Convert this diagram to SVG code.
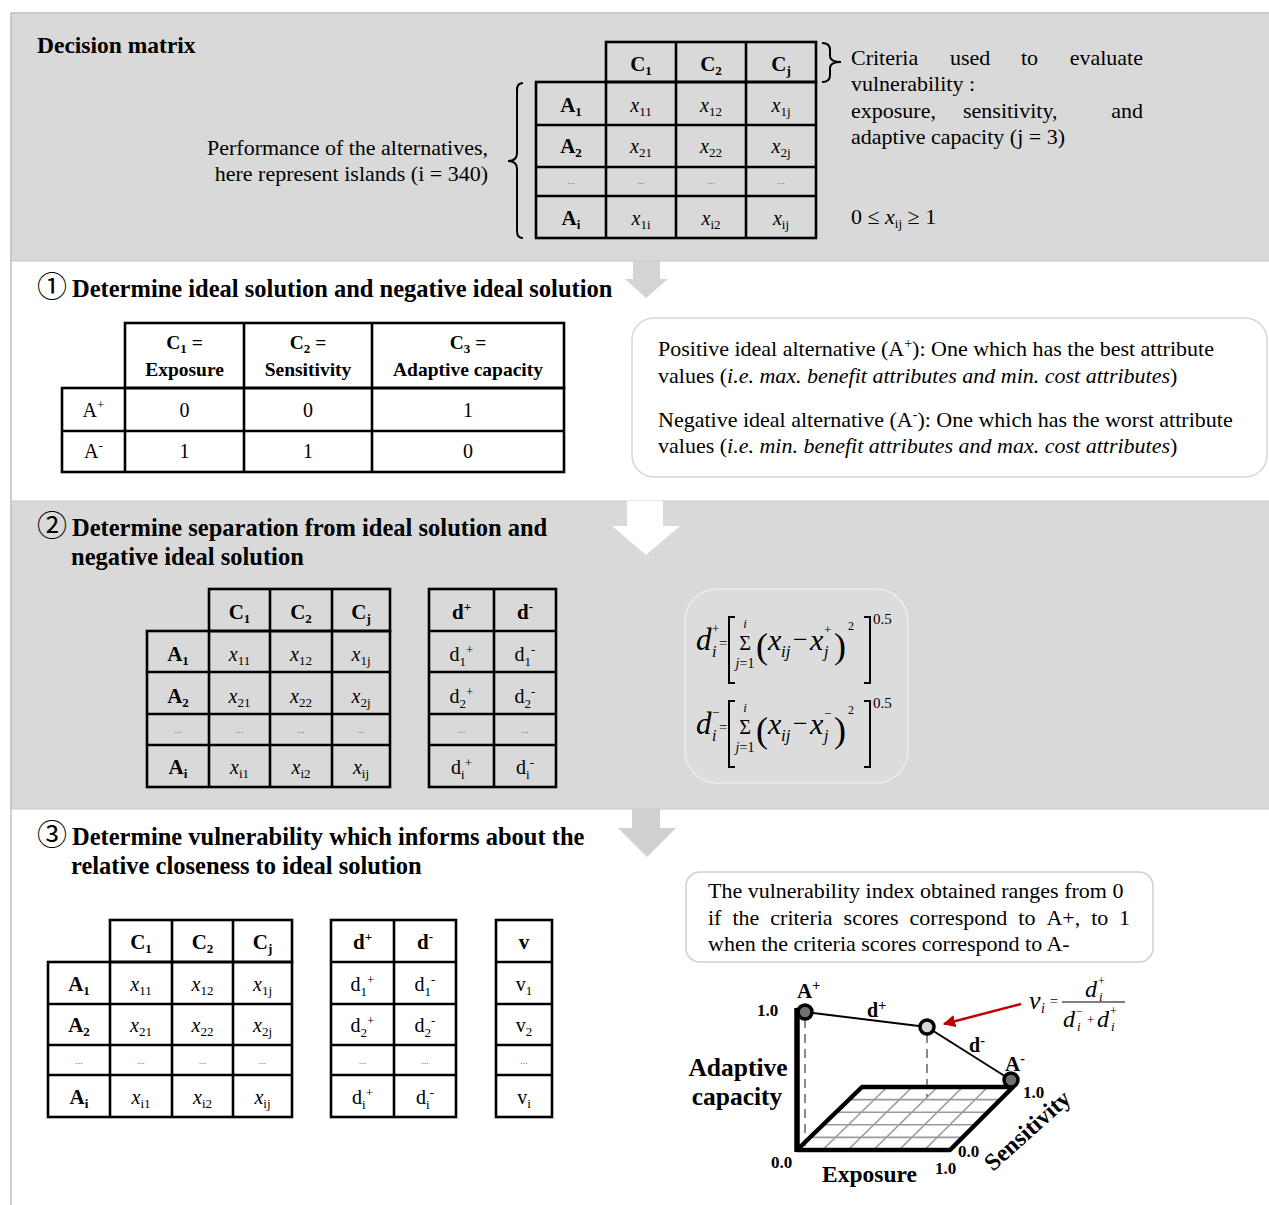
<svg xmlns="http://www.w3.org/2000/svg" width="1269" height="1205" viewBox="0 0 1269 1205">
<defs>
<style>
text { font-family: "Liberation Serif", "Times New Roman", serif; fill: #000; }
.b { font-weight: bold; }
.i { font-style: italic; }
.n { font-style: normal; }
.m { text-anchor: middle; }
.e { text-anchor: end; }
.grid { fill: none; stroke: #000; stroke-width: 2.6; }
.hd { font-size: 21px; font-weight: bold; }
.cv { font-size: 20px; }
.dots { font-size: 10px; fill: #777; }
.body { font-size: 22px; }
.title { font-size: 24.5px; font-weight: bold; }
.circ { font-family: "Noto Sans CJK JP", "DejaVu Sans", sans-serif; font-weight: normal; font-size: 30px; }
.sub { font-size: 13px; }
.ax { font-weight: bold; font-size: 17px; }
.br { fill: none; stroke: #000; stroke-width: 2; }
.gl { stroke: #9a9a9a; stroke-width: 1.6; }
.dash { stroke: #8a8a8a; stroke-width: 2; stroke-dasharray: 9 6; }
.pt { stroke: #000; stroke-width: 3.5; }
</style>
<marker id="redhead" viewBox="0 0 10 10" refX="9" refY="5" markerWidth="5" markerHeight="5" orient="auto" markerUnits="strokeWidth"><path d="M0,0 L10,5 L0,10 z" fill="#c00000"/></marker>
</defs>

<!-- backgrounds -->
<rect x="0" y="0" width="1269" height="1205" fill="#fff"/>
<rect x="11" y="13" width="1258" height="248" fill="#d9d9d9"/>
<rect x="11" y="501" width="1258" height="308" fill="#d9d9d9"/>
<path d="M11,1205 V13 H1269" stroke="#bdbdbd" stroke-width="1.5" fill="none"/>
<path d="M11,261 H1269 M11,501 H1269 M11,809 H1269" stroke="#c8c8c8" stroke-width="1"/>

<!-- connectors -->
<g id="connectors">
<polygon points="633,261 660,261 660,279 668,279 646,298 625,279 633,279" fill="#d4d4d4"/>
<polygon points="627,501 663,501 663,526 680,526 646,555 612,526 627,526" fill="#fff"/>
<polygon points="632,809 660,809 660,828 676,828 647,857 618,828 632,828" fill="#d0d0d0"/>
<line x1="1021" y1="1004" x2="944" y2="1024" stroke="#c00000" stroke-width="2.5" marker-end="url(#redhead)"/>
</g>

<!-- Section 0: decision matrix -->
<g id="decision-matrix-title">
<text class="b" font-size="23.5" x="37" y="53">Decision matrix</text>
</g>
<g id="alternatives-label">
<text class="body e" x="488" y="155">Performance of the alternatives,</text>
<text class="body e" x="488" y="181">here represent islands (i = 340)</text>
<path class="br" d="M523,83 Q517,83 517,90 V153 Q517,161 508,161 Q517,161 517,169 V231 Q517,238 523,238"/>
</g>
<g id="criteria-label">
<path class="br" d="M822,43 Q830,43 830,50 V56 Q830,62 841,62 Q830,62 830,68 V75 Q830,82 822,82"/>
<text class="body" x="851" y="65">Criteria</text>
<text class="body" x="950" y="65">used</text>
<text class="body" x="1021" y="65">to</text>
<text class="body e" x="1143" y="65">evaluate</text>
<text class="body" x="851" y="91">vulnerability :</text>
<text class="body" x="851" y="118">exposure,</text>
<text class="body" x="963" y="118">sensitivity,</text>
<text class="body e" x="1143" y="118">and</text>
<text class="body" x="851" y="144">adaptive capacity (j = 3)</text>
<text class="body" x="851" y="224">0 ≤ <tspan class="i">x</tspan><tspan class="sub" dy="4">ij</tspan><tspan dy="-4"> ≥ 1</tspan></text>
</g>
<g id="decision-matrix">
<rect class="grid" x="606" y="42" width="210" height="40"/>
<rect class="grid" x="536" y="82" width="280" height="156"/>
<path class="grid" d="M606,82 V238 M676,42 V238 M746,42 V238 M536,125 H816 M536,167 H816 M536,196 H816"/>
<text class="hd m" x="641" y="71">C<tspan class="sub" dy="4">1</tspan></text>
<text class="hd m" x="711" y="71">C<tspan class="sub" dy="4">2</tspan></text>
<text class="hd m" x="781" y="71">C<tspan class="sub" dy="4">j</tspan></text>
<text class="hd m" x="571" y="112">A<tspan class="sub" dy="4">1</tspan></text>
<text class="hd m" x="571" y="153">A<tspan class="sub" dy="4">2</tspan></text>
<text class="dots m" x="571" y="184">...</text>
<text class="hd m" x="571" y="225">A<tspan class="sub" dy="4">i</tspan></text>
<text class="cv m" x="641" y="112"><tspan class="i">x</tspan><tspan class="sub" dy="4">11</tspan></text>
<text class="cv m" x="711" y="112"><tspan class="i">x</tspan><tspan class="sub" dy="4">12</tspan></text>
<text class="cv m" x="781" y="112"><tspan class="i">x</tspan><tspan class="sub" dy="4">1j</tspan></text>
<text class="cv m" x="641" y="153"><tspan class="i">x</tspan><tspan class="sub" dy="4">21</tspan></text>
<text class="cv m" x="711" y="153"><tspan class="i">x</tspan><tspan class="sub" dy="4">22</tspan></text>
<text class="cv m" x="781" y="153"><tspan class="i">x</tspan><tspan class="sub" dy="4">2j</tspan></text>
<text class="dots m" x="641" y="184">...</text>
<text class="dots m" x="711" y="184">...</text>
<text class="dots m" x="781" y="184">...</text>
<text class="cv m" x="641" y="225"><tspan class="i">x</tspan><tspan class="sub" dy="4">1i</tspan></text>
<text class="cv m" x="711" y="225"><tspan class="i">x</tspan><tspan class="sub" dy="4">i2</tspan></text>
<text class="cv m" x="781" y="225"><tspan class="i">x</tspan><tspan class="sub" dy="4">ij</tspan></text>
</g>

<!-- Section 1 -->
<g id="step1-title">
<text class="title" x="37" y="297"><tspan class="circ">①</tspan><tspan x="72">Determine ideal solution and negative ideal solution</tspan></text>
</g>
<g id="ideal-table">
<rect class="grid" x="125" y="323" width="439" height="65"/>
<rect class="grid" x="62" y="388" width="502" height="84"/>
<path class="grid" d="M125,388 V472 M244,323 V472 M372,323 V472 M62,431 H564"/>
<text class="m b" font-size="19.5" x="184.5" y="349">C<tspan font-size="13" dy="4">1</tspan><tspan dy="-4"> =</tspan></text>
<text class="m b" font-size="19.5" x="184.5" y="376">Exposure</text>
<text class="m b" font-size="19.5" x="308" y="349">C<tspan font-size="13" dy="4">2</tspan><tspan dy="-4"> =</tspan></text>
<text class="m b" font-size="19.5" x="308" y="376">Sensitivity</text>
<text class="m b" font-size="19.5" x="468" y="349">C<tspan font-size="13" dy="4">3</tspan><tspan dy="-4"> =</tspan></text>
<text class="m b" font-size="19.5" x="468" y="376">Adaptive capacity</text>
<text class="m" font-size="20" x="93.5" y="417">A<tspan font-size="13" dy="-8">+</tspan></text>
<text class="m" font-size="20" x="184.5" y="417">0</text>
<text class="m" font-size="20" x="308" y="417">0</text>
<text class="m" font-size="20" x="468" y="417">1</text>
<text class="m" font-size="20" x="93.5" y="458">A<tspan font-size="13" dy="-8">-</tspan></text>
<text class="m" font-size="20" x="184.5" y="458">1</text>
<text class="m" font-size="20" x="308" y="458">1</text>
<text class="m" font-size="20" x="468" y="458">0</text>
</g>
<g id="ideal-definition">
<rect x="632" y="318" width="635" height="159" rx="22" fill="#fff" stroke="#d6d6d6" stroke-width="1.5"/>
<text class="body" x="658" y="356">Positive ideal alternative (A<tspan font-size="14" dy="-8">+</tspan><tspan dy="8">): One which has the best attribute</tspan></text>
<text class="body" x="658" y="383">values (<tspan class="i">i.e. max. benefit attributes and min. cost attributes</tspan>)</text>
<text class="body" x="658" y="427">Negative ideal alternative (A<tspan font-size="14" dy="-8">-</tspan><tspan dy="8">): One which has the worst attribute</tspan></text>
<text class="body" x="658" y="453">values (<tspan class="i">i.e. min. benefit attributes and max. cost attributes</tspan>)</text>
</g>

<!-- Section 2 -->
<g id="step2-title">
<text class="title" x="37" y="536"><tspan class="circ">②</tspan><tspan x="72">Determine separation from ideal solution and</tspan></text>
<text class="title" x="71" y="565">negative ideal solution</text>
</g>
<g id="separation-matrix">
<rect class="grid" x="209" y="589" width="181" height="42"/>
<rect class="grid" x="147" y="631" width="243" height="156"/>
<path class="grid" d="M209,631 V787 M270,589 V787 M332,589 V787 M147,672 H390 M147,714 H390 M147,745 H390"/>
<text class="hd m" x="239.5" y="619">C<tspan class="sub" dy="4">1</tspan></text>
<text class="hd m" x="301" y="619">C<tspan class="sub" dy="4">2</tspan></text>
<text class="hd m" x="361" y="619">C<tspan class="sub" dy="4">j</tspan></text>
<text class="hd m" x="178" y="661">A<tspan class="sub" dy="4">1</tspan></text>
<text class="hd m" x="178" y="703">A<tspan class="sub" dy="4">2</tspan></text>
<text class="dots m" x="178" y="733">...</text>
<text class="hd m" x="178" y="774">A<tspan class="sub" dy="4">i</tspan></text>
<text class="cv m" x="239.5" y="661"><tspan class="i">x</tspan><tspan class="sub" dy="4">11</tspan></text>
<text class="cv m" x="301" y="661"><tspan class="i">x</tspan><tspan class="sub" dy="4">12</tspan></text>
<text class="cv m" x="361" y="661"><tspan class="i">x</tspan><tspan class="sub" dy="4">1j</tspan></text>
<text class="cv m" x="239.5" y="703"><tspan class="i">x</tspan><tspan class="sub" dy="4">21</tspan></text>
<text class="cv m" x="301" y="703"><tspan class="i">x</tspan><tspan class="sub" dy="4">22</tspan></text>
<text class="cv m" x="361" y="703"><tspan class="i">x</tspan><tspan class="sub" dy="4">2j</tspan></text>
<text class="dots m" x="239.5" y="733">...</text>
<text class="dots m" x="301" y="733">...</text>
<text class="dots m" x="361" y="733">...</text>
<text class="cv m" x="239.5" y="774"><tspan class="i">x</tspan><tspan class="sub" dy="4">i1</tspan></text>
<text class="cv m" x="301" y="774"><tspan class="i">x</tspan><tspan class="sub" dy="4">i2</tspan></text>
<text class="cv m" x="361" y="774"><tspan class="i">x</tspan><tspan class="sub" dy="4">ij</tspan></text>
</g>
<g id="separation-d">
<rect class="grid" x="429" y="589" width="127" height="198"/>
<path class="grid" d="M494,589 V787 M429,631 H556 M429,672 H556 M429,714 H556 M429,745 H556"/>
<text class="hd m" x="461.5" y="619">d<tspan class="sub" dy="-8">+</tspan></text>
<text class="hd m" x="525" y="619">d<tspan class="sub" dy="-8">-</tspan></text>
<text class="cv m" x="461.5" y="661">d<tspan class="sub" dy="5">1</tspan><tspan class="sub" dy="-12">+</tspan></text>
<text class="cv m" x="525" y="661">d<tspan class="sub" dy="5">1</tspan><tspan class="sub" dy="-12">-</tspan></text>
<text class="cv m" x="461.5" y="703">d<tspan class="sub" dy="5">2</tspan><tspan class="sub" dy="-12">+</tspan></text>
<text class="cv m" x="525" y="703">d<tspan class="sub" dy="5">2</tspan><tspan class="sub" dy="-12">-</tspan></text>
<text class="dots m" x="461.5" y="733">...</text>
<text class="dots m" x="525" y="733">...</text>
<text class="cv m" x="461.5" y="774">d<tspan class="sub" dy="5">i</tspan><tspan class="sub" dy="-12">+</tspan></text>
<text class="cv m" x="525" y="774">d<tspan class="sub" dy="5">i</tspan><tspan class="sub" dy="-12">-</tspan></text>
</g>
<g id="separation-formula">
<rect x="685" y="589" width="223" height="194" rx="32" fill="#dcdcdc" stroke="#ececec" stroke-width="1.5"/>
<text class="i" font-size="31" x="696" y="650">d</text>
<text font-size="13" x="712" y="633">+</text>
<text class="i" font-size="16" x="712" y="657">i</text>
<text font-size="15" x="719" y="648">=</text>
<path class="br" d="M735,617 H729 V683 H735"/>
<text class="i m" font-size="13" x="745" y="628">i</text>
<text class="m" font-size="20" x="745" y="650">Σ</text>
<text class="i m" font-size="14" x="745" y="668">j<tspan class="n">=1</tspan></text>
<text font-size="36" x="756" y="658">(</text>
<text class="i" font-size="30" x="768" y="650">x</text>
<text class="i" font-size="17" x="781" y="657">ij</text>
<text font-size="26" x="793" y="648">−</text>
<text class="i" font-size="30" x="810" y="650">x</text>
<text font-size="13" x="824" y="634">+</text>
<text class="i" font-size="16" x="824" y="657">j</text>
<text font-size="36" x="834" y="658">)</text>
<text font-size="12" x="848" y="630">2</text>
<path class="br" d="M864,617 H870 V683 H864"/>
<text font-size="15" x="873" y="624">0.5</text>

<text class="i" font-size="31" x="696" y="734">d</text>
<text font-size="13" x="712" y="717">−</text>
<text class="i" font-size="16" x="712" y="741">i</text>
<text font-size="15" x="719" y="732">=</text>
<path class="br" d="M735,701 H729 V767 H735"/>
<text class="i m" font-size="13" x="745" y="712">i</text>
<text class="m" font-size="20" x="745" y="734">Σ</text>
<text class="i m" font-size="14" x="745" y="752">j<tspan class="n">=1</tspan></text>
<text font-size="36" x="756" y="742">(</text>
<text class="i" font-size="30" x="768" y="734">x</text>
<text class="i" font-size="17" x="781" y="741">ij</text>
<text font-size="26" x="793" y="732">−</text>
<text class="i" font-size="30" x="810" y="734">x</text>
<text font-size="13" x="824" y="718">−</text>
<text class="i" font-size="16" x="824" y="741">j</text>
<text font-size="36" x="834" y="742">)</text>
<text font-size="12" x="848" y="714">2</text>
<path class="br" d="M864,701 H870 V767 H864"/>
<text font-size="15" x="873" y="708">0.5</text>
</g>

<!-- Section 3 -->
<g id="step3-title">
<text class="title" x="37" y="845"><tspan class="circ">③</tspan><tspan x="72">Determine vulnerability which informs about the</tspan></text>
<text class="title" x="71" y="874">relative closeness to ideal solution</text>
</g>
<g id="vuln-matrix">
<rect class="grid" x="110" y="920" width="182" height="42"/>
<rect class="grid" x="48" y="962" width="244" height="155"/>
<path class="grid" d="M110,962 V1117 M172,920 V1117 M233,920 V1117 M48,1004 H292 M48,1045 H292 M48,1075 H292"/>
<text class="hd m" x="141" y="949">C<tspan class="sub" dy="4">1</tspan></text>
<text class="hd m" x="202.5" y="949">C<tspan class="sub" dy="4">2</tspan></text>
<text class="hd m" x="262.5" y="949">C<tspan class="sub" dy="4">j</tspan></text>
<text class="hd m" x="79" y="991">A<tspan class="sub" dy="4">1</tspan></text>
<text class="hd m" x="79" y="1032">A<tspan class="sub" dy="4">2</tspan></text>
<text class="dots m" x="79" y="1064">...</text>
<text class="hd m" x="79" y="1104">A<tspan class="sub" dy="4">i</tspan></text>
<text class="cv m" x="141" y="991"><tspan class="i">x</tspan><tspan class="sub" dy="4">11</tspan></text>
<text class="cv m" x="202.5" y="991"><tspan class="i">x</tspan><tspan class="sub" dy="4">12</tspan></text>
<text class="cv m" x="262.5" y="991"><tspan class="i">x</tspan><tspan class="sub" dy="4">1j</tspan></text>
<text class="cv m" x="141" y="1032"><tspan class="i">x</tspan><tspan class="sub" dy="4">21</tspan></text>
<text class="cv m" x="202.5" y="1032"><tspan class="i">x</tspan><tspan class="sub" dy="4">22</tspan></text>
<text class="cv m" x="262.5" y="1032"><tspan class="i">x</tspan><tspan class="sub" dy="4">2j</tspan></text>
<text class="dots m" x="141" y="1064">...</text>
<text class="dots m" x="202.5" y="1064">...</text>
<text class="dots m" x="262.5" y="1064">...</text>
<text class="cv m" x="141" y="1104"><tspan class="i">x</tspan><tspan class="sub" dy="4">i1</tspan></text>
<text class="cv m" x="202.5" y="1104"><tspan class="i">x</tspan><tspan class="sub" dy="4">i2</tspan></text>
<text class="cv m" x="262.5" y="1104"><tspan class="i">x</tspan><tspan class="sub" dy="4">ij</tspan></text>
</g>
<g id="vuln-d">
<rect class="grid" x="331" y="920" width="125" height="197"/>
<path class="grid" d="M394,920 V1117 M331,962 H456 M331,1004 H456 M331,1045 H456 M331,1075 H456"/>
<text class="hd m" x="362.5" y="949">d<tspan class="sub" dy="-8">+</tspan></text>
<text class="hd m" x="425" y="949">d<tspan class="sub" dy="-8">-</tspan></text>
<text class="cv m" x="362.5" y="991">d<tspan class="sub" dy="5">1</tspan><tspan class="sub" dy="-12">+</tspan></text>
<text class="cv m" x="425" y="991">d<tspan class="sub" dy="5">1</tspan><tspan class="sub" dy="-12">-</tspan></text>
<text class="cv m" x="362.5" y="1032">d<tspan class="sub" dy="5">2</tspan><tspan class="sub" dy="-12">+</tspan></text>
<text class="cv m" x="425" y="1032">d<tspan class="sub" dy="5">2</tspan><tspan class="sub" dy="-12">-</tspan></text>
<text class="dots m" x="362.5" y="1064">...</text>
<text class="dots m" x="425" y="1064">...</text>
<text class="cv m" x="362.5" y="1104">d<tspan class="sub" dy="5">i</tspan><tspan class="sub" dy="-12">+</tspan></text>
<text class="cv m" x="425" y="1104">d<tspan class="sub" dy="5">i</tspan><tspan class="sub" dy="-12">-</tspan></text>
</g>
<g id="vuln-v">
<rect class="grid" x="496" y="920" width="56" height="197"/>
<path class="grid" d="M496,962 H552 M496,1004 H552 M496,1045 H552 M496,1075 H552"/>
<text class="hd m" x="524" y="949">v</text>
<text class="cv m" x="524" y="991">v<tspan class="sub" dy="4">1</tspan></text>
<text class="cv m" x="524" y="1032">v<tspan class="sub" dy="4">2</tspan></text>
<text class="dots m" x="524" y="1064">...</text>
<text class="cv m" x="524" y="1104">v<tspan class="sub" dy="4">i</tspan></text>
</g>
<g id="vuln-note">
<rect x="686" y="872" width="467" height="90" rx="14" fill="#fff" stroke="#d0d0d0" stroke-width="1.5"/>
<text class="body" x="708" y="898">The vulnerability index obtained ranges from 0</text>
<text class="body" x="708" y="925">if</text>
<text class="body" x="732.4" y="925">the</text>
<text class="body" x="770.3" y="925">criteria</text>
<text class="body" x="843.6" y="925">scores</text>
<text class="body" x="909.6" y="925">correspond</text>
<text class="body" x="1018.3" y="925">to</text>
<text class="body" x="1046.4" y="925">A+,</text>
<text class="body" x="1091.2" y="925">to</text>
<text class="body e" x="1130" y="925">1</text>
<text class="body" x="708" y="951">when the criteria scores correspond to A-</text>
</g>
<g id="vuln-chart">
<line class="gl" x1="822.5" y1="1150" x2="887.2" y2="1087"/>
<line class="gl" x1="848" y1="1150" x2="912.3" y2="1087"/>
<line class="gl" x1="873.5" y1="1150" x2="937.5" y2="1087"/>
<line class="gl" x1="899" y1="1150" x2="962.7" y2="1087"/>
<line class="gl" x1="924.5" y1="1150" x2="987.8" y2="1087"/>
<line class="gl" x1="810" y1="1137.4" x2="962.6" y2="1137.4"/>
<line class="gl" x1="823" y1="1124.8" x2="975.2" y2="1124.8"/>
<line class="gl" x1="836" y1="1112.2" x2="987.8" y2="1112.2"/>
<line class="gl" x1="849" y1="1099.6" x2="1000.4" y2="1099.6"/>
<line class="dash" x1="805" y1="1019" x2="805" y2="1146"/>
<line class="dash" x1="927" y1="1034" x2="927" y2="1097"/>
<polygon points="797,1150 950,1150 1013,1087 862,1087" fill="none" stroke="#000" stroke-width="4.5" stroke-linejoin="round"/>
<line x1="797" y1="1008" x2="797" y2="1152" stroke="#000" stroke-width="5.5"/>
<line x1="796" y1="1010" x2="805" y2="1012" stroke="#000" stroke-width="5"/>
<line x1="805" y1="1012" x2="927" y2="1027" stroke="#000" stroke-width="2"/>
<line x1="927" y1="1027" x2="1011" y2="1080" stroke="#000" stroke-width="2"/>
<circle class="pt" cx="805" cy="1012" r="7" fill="#707070"/>
<circle class="pt" cx="927" cy="1027" r="7" fill="#d4d4d4"/>
<circle class="pt" cx="1011" cy="1080" r="7" fill="#707070"/>
<text class="b" font-size="21" x="797" y="998">A<tspan font-size="14" dy="-8">+</tspan></text>
<text class="b" font-size="20" x="867" y="1017">d<tspan font-size="14" dy="-7">+</tspan></text>
<text class="b" font-size="20" x="969" y="1052">d<tspan font-size="14" dy="-7">-</tspan></text>
<text class="b" font-size="21" x="1005" y="1071">A<tspan font-size="14" dy="-8">-</tspan></text>
<text class="ax" x="757" y="1016">1.0</text>
<text class="ax" x="1023" y="1098">1.0</text>
<text class="ax" x="771" y="1168">0.0</text>
<text class="ax" x="935" y="1174">1.0</text>
<text class="ax" x="958" y="1157">0.0</text>
<text class="b m" font-size="25.5" x="738" y="1076">Adaptive</text>
<text class="b m" font-size="25.5" x="737" y="1105">capacity</text>
<text class="b" font-size="23.5" x="822" y="1182">Exposure</text>
<text class="b" font-size="24" transform="translate(993,1172) rotate(-42)">Sensitivity</text>
</g>
<g id="vuln-formula">
<text class="i" font-size="26" x="1029" y="1009">ν</text>
<text class="i" font-size="14" x="1041" y="1013">i</text>
<text font-size="14" x="1050" y="1006">=</text>
<line x1="1062" y1="1002" x2="1125" y2="1002" stroke="#000" stroke-width="1.2"/>
<text class="i" font-size="24" x="1085" y="997">d</text>
<text font-size="12" x="1098" y="985">+</text>
<text class="i" font-size="13" x="1099" y="1001">i</text>
<text class="i" font-size="24" x="1063" y="1027">d</text>
<text font-size="12" x="1076" y="1015">−</text>
<text class="i" font-size="13" x="1077" y="1031">i</text>
<text font-size="13" x="1087" y="1024">+</text>
<text class="i" font-size="24" x="1097" y="1027">d</text>
<text font-size="12" x="1110" y="1015">+</text>
<text class="i" font-size="13" x="1111" y="1031">i</text>
</g>
</svg>
